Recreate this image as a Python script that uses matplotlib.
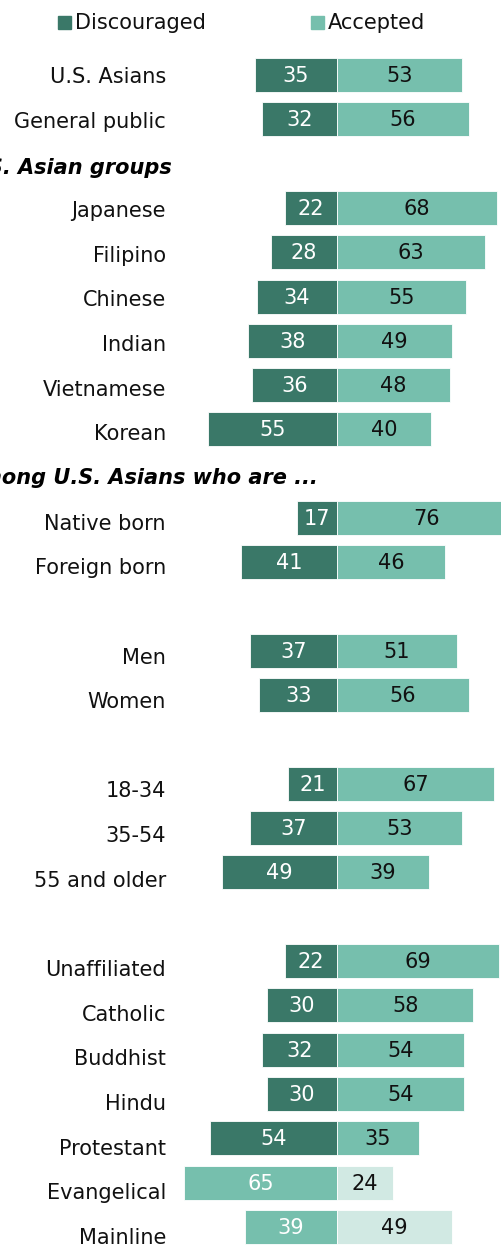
import matplotlib.pyplot as plt
from matplotlib.patches import Rectangle

# survey values (% saying discouraged / accepted)
labels = ["U.S. Asians", "General public",
          "Japanese", "Filipino", "Chinese", "Indian", "Vietnamese", "Korean",
          "Native born", "Foreign born",
          "Men", "Women",
          "18-34", "35-54", "55 and older",
          "Unaffiliated", "Catholic", "Buddhist", "Hindu", "Protestant",
          "Evangelical", "Mainline"]
discouraged = [35, 32, 22, 28, 34, 38, 36, 55, 17, 41, 37, 33, 21, 37, 49,
               22, 30, 32, 30, 54, 65, 39]
accepted = [53, 56, 68, 63, 55, 49, 48, 40, 76, 46, 51, 56, 67, 53, 39,
            69, 58, 54, 54, 35, 24, 49]
# row slot of each bar (blank slots hold headers or spacing)
slots = [0, 1, 3, 4, 5, 6, 7, 8, 10, 11, 13, 14, 16, 17, 18,
         20, 21, 22, 23, 24, 25, 26]
headers = {2: "U.S. Asian groups", 9: "Among U.S. Asians who are ..."}
sub_rows = ["Evangelical", "Mainline"]

DARK = "#3a7868"
MID = "#76bfad"
LIGHT = "#d1e9e3"

W, H = 501, 1247
PX = 2.35          # pixels per percentage point
CX = 337           # pixel position of the zero line
Y0, PITCH = 75, 44.3

fig = plt.figure(figsize=(W / 100, H / 100), dpi=100)
ax = fig.add_axes([0, 0, 1, 1])
ax.set_xlim(-CX / PX, (W - CX) / PX)
ax.set_ylim(H, 0)
ax.axis("off")

FS = 15

def ypos(slot):
    return Y0 + slot * PITCH

for lab, d, a, s in zip(labels, discouraged, accepted, slots):
    y = ypos(s)
    sub = lab in sub_rows
    cl = MID if sub else DARK
    cr = LIGHT if sub else MID
    ax.barh(y, -d, height=34, color=cl, edgecolor="white", linewidth=0.6)
    ax.barh(y, a, height=34, color=cr, edgecolor="white", linewidth=0.6)
    ax.text(-d / 2, y + 1, str(d), ha="center", va="center",
            fontsize=FS, color="white")
    ax.text(a / 2, y + 1, str(a), ha="center", va="center",
            fontsize=FS, color="#111111")
    # category label sits a bit lower as we go down the list
    ax.text((166 - CX) / PX, y + 2 + 0.008 * (y - Y0), lab, ha="right",
            va="center", fontsize=FS, color="#111111")

header_right = {2: 172, 9: 318}
for s, txt in headers.items():
    ax.text((header_right[s] - CX) / PX, ypos(s) + 4, txt, ha="right",
            va="center", fontsize=FS, fontweight="bold", fontstyle="italic",
            color="black")

# legend
for x0, txt, c in [(58, "Discouraged", DARK), (311, "Accepted", MID)]:
    ax.add_patch(Rectangle(((x0 - CX) / PX, 16), 13 / PX, 13, color=c,
                           clip_on=False))
    ax.text((x0 + 17 - CX) / PX, 23, txt, ha="left", va="center",
            fontsize=FS, color="#111111")

fig.savefig("out.png", dpi=100)
